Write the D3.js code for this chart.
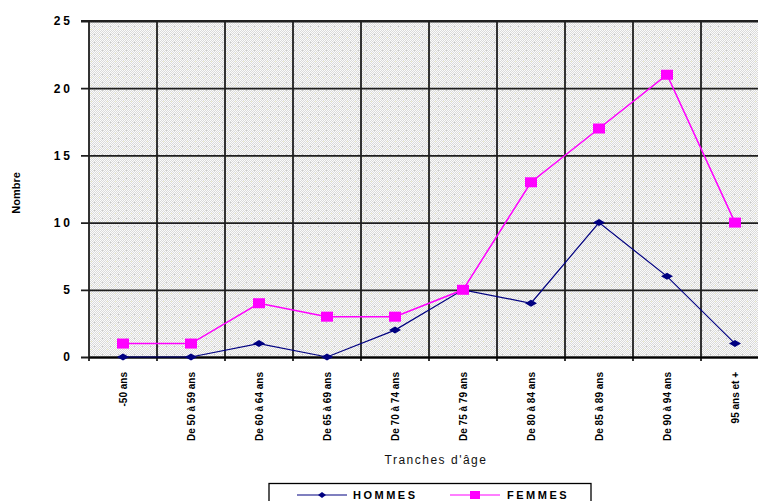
<!DOCTYPE html>
<html><head><meta charset="utf-8">
<script src="https://cdn.jsdelivr.net/npm/d3@7"></script>
<style>
html,body{margin:0;padding:0;background:#fff;overflow:hidden}
svg{display:block}
text{font-family:"Liberation Sans",Arial,sans-serif}
</style></head><body>
<svg id="c" width="758" height="501"></svg>
<script>
const categories = ["-50 ans","De 50 à 59 ans","De 60 à 64 ans","De 65 à 69 ans","De 70 à 74 ans","De 75 à 79 ans","De 80 à 84 ans","De 85 à 89 ans","De 90 à 94 ans","95 ans et +"];
const hommes = [0,0,1,0,2,5,4,10,6,1];
const femmes = [1,1,4,3,3,5,13,17,21,10];
const yTicks = [0,5,10,15,20,25];
const seriesNames = ["HOMMES","FEMMES"];
const seriesColors = ["#000080","#ff00ff"];

const svg = d3.select("#c");
const L = 89, R = 769, T = 21, B = 357;
const x = d3.scaleBand().domain(categories).range([L, R]);
const y = d3.scaleLinear().domain([0, 25]).range([B, T]);

// texture pattern
const defs = svg.append("defs");
const pat = defs.append("pattern").attr("id","tex").attr("patternUnits","userSpaceOnUse").attr("width",8).attr("height",8);
pat.append("rect").attr("width",8).attr("height",8).attr("fill","#dadada");
for (let i=0;i<8;i++) for (let j=0;j<8;j++) if ((i+j)%2===0) pat.append("rect").attr("x",i).attr("y",j).attr("width",1).attr("height",1).attr("fill","#fbfbfb");
pat.append("rect").attr("x",3).attr("y",5).attr("width",1).attr("height",1).attr("fill","#fbfbd0");
pat.append("rect").attr("x",6).attr("y",2).attr("width",1).attr("height",1).attr("fill","#c8c8c8");

svg.append("rect").attr("x",L).attr("y",T).attr("width",R-L).attr("height",B-T).attr("fill","url(#tex)");

// y axis with grid
const yAxis = svg.append("g").attr("transform",`translate(${L},0)`)
  .call(d3.axisLeft(y).tickValues(yTicks).tickSize(-(R-L)).tickPadding(16));
yAxis.select(".domain").remove();
yAxis.selectAll(".tick line").attr("stroke","#1e1e1e").attr("stroke-width",1.8).attr("x1",-8);
yAxis.selectAll(".tick text").attr("font-size",12).attr("font-weight","bold").attr("letter-spacing","3px").attr("fill","#000");

// x grid (vertical lines at band boundaries)
const bounds = categories.map(c => x(c));
svg.append("g").selectAll("line").data(bounds).join("line")
  .attr("x1",d=>d).attr("x2",d=>d).attr("y1",T).attr("y2",B+4)
  .attr("stroke","#1e1e1e").attr("stroke-width",1.8);

// x axis
const xAxis = svg.append("g").attr("transform",`translate(0,${B})`)
  .call(d3.axisBottom(x).tickSize(0).tickPadding(0));
xAxis.select(".domain").attr("stroke","#000").attr("stroke-width",2);
xAxis.selectAll(".tick text").attr("font-size",10).attr("font-weight","bold").attr("fill","#000")
  .attr("text-anchor","end").attr("transform","rotate(-90)").attr("x",-15).attr("y",0).attr("dy","0.35em");
svg.append("line").attr("x1",L-8).attr("x2",R).attr("y1",T).attr("y2",T).attr("stroke","#1e1e1e").attr("stroke-width",1.8);

// lines
const line = d3.line().x((d,i)=>x(categories[i])+x.bandwidth()/2).y(d=>y(d));
svg.append("path").datum(hommes).attr("d",line).attr("fill","none").attr("stroke",seriesColors[0]).attr("stroke-width",1.2);
svg.append("path").datum(femmes).attr("d",line).attr("fill","none").attr("stroke",seriesColors[1]).attr("stroke-width",1.5);
svg.append("g").selectAll("path").data(hommes).join("path")
  .attr("transform",(d,i)=>`translate(${x(categories[i])+x.bandwidth()/2},${y(d)})`)
  .attr("d","M-6,0L0,-3.5L6,0L0,3.5Z").attr("fill",seriesColors[0]);
svg.append("g").selectAll("rect").data(femmes).join("rect")
  .attr("x",(d,i)=>x(categories[i])+x.bandwidth()/2-6).attr("y",d=>y(d)-5)
  .attr("width",12).attr("height",10).attr("fill",seriesColors[1]);

// axis titles
svg.append("text").attr("transform","translate(20,193) rotate(-90)").attr("text-anchor","middle")
  .attr("font-size",11).attr("font-weight","bold").text("Nombre");
svg.append("text").attr("x",436).attr("y",464).attr("text-anchor","middle")
  .attr("font-size",12).attr("letter-spacing","1.5px").attr("fill","#111").text("Tranches d'âge");

// legend
const lg = svg.append("g");
lg.append("rect").attr("x",269).attr("y",483.5).attr("width",322).attr("height",40).attr("fill","#fff").attr("stroke","#000").attr("stroke-width",1.3);
const items = [{x:297, lx:353},{x:450, lx:507}];
items.forEach((it,i)=>{
  lg.append("line").attr("x1",it.x).attr("x2",it.x+50).attr("y1",495).attr("y2",495).attr("stroke",seriesColors[i]).attr("stroke-width",1.2);
  if(i===0) lg.append("path").attr("transform",`translate(${it.x+25},495)`).attr("d","M-4,0L0,-3L4,0L0,3Z").attr("fill",seriesColors[0]);
  else lg.append("rect").attr("x",it.x+20).attr("y",491).attr("width",10).attr("height",8).attr("fill",seriesColors[1]);
  lg.append("text").attr("x",it.lx).attr("y",499).attr("font-size",11).attr("font-weight","bold").attr("letter-spacing","2.5px").text(seriesNames[i]);
});
</script>
</body></html>
